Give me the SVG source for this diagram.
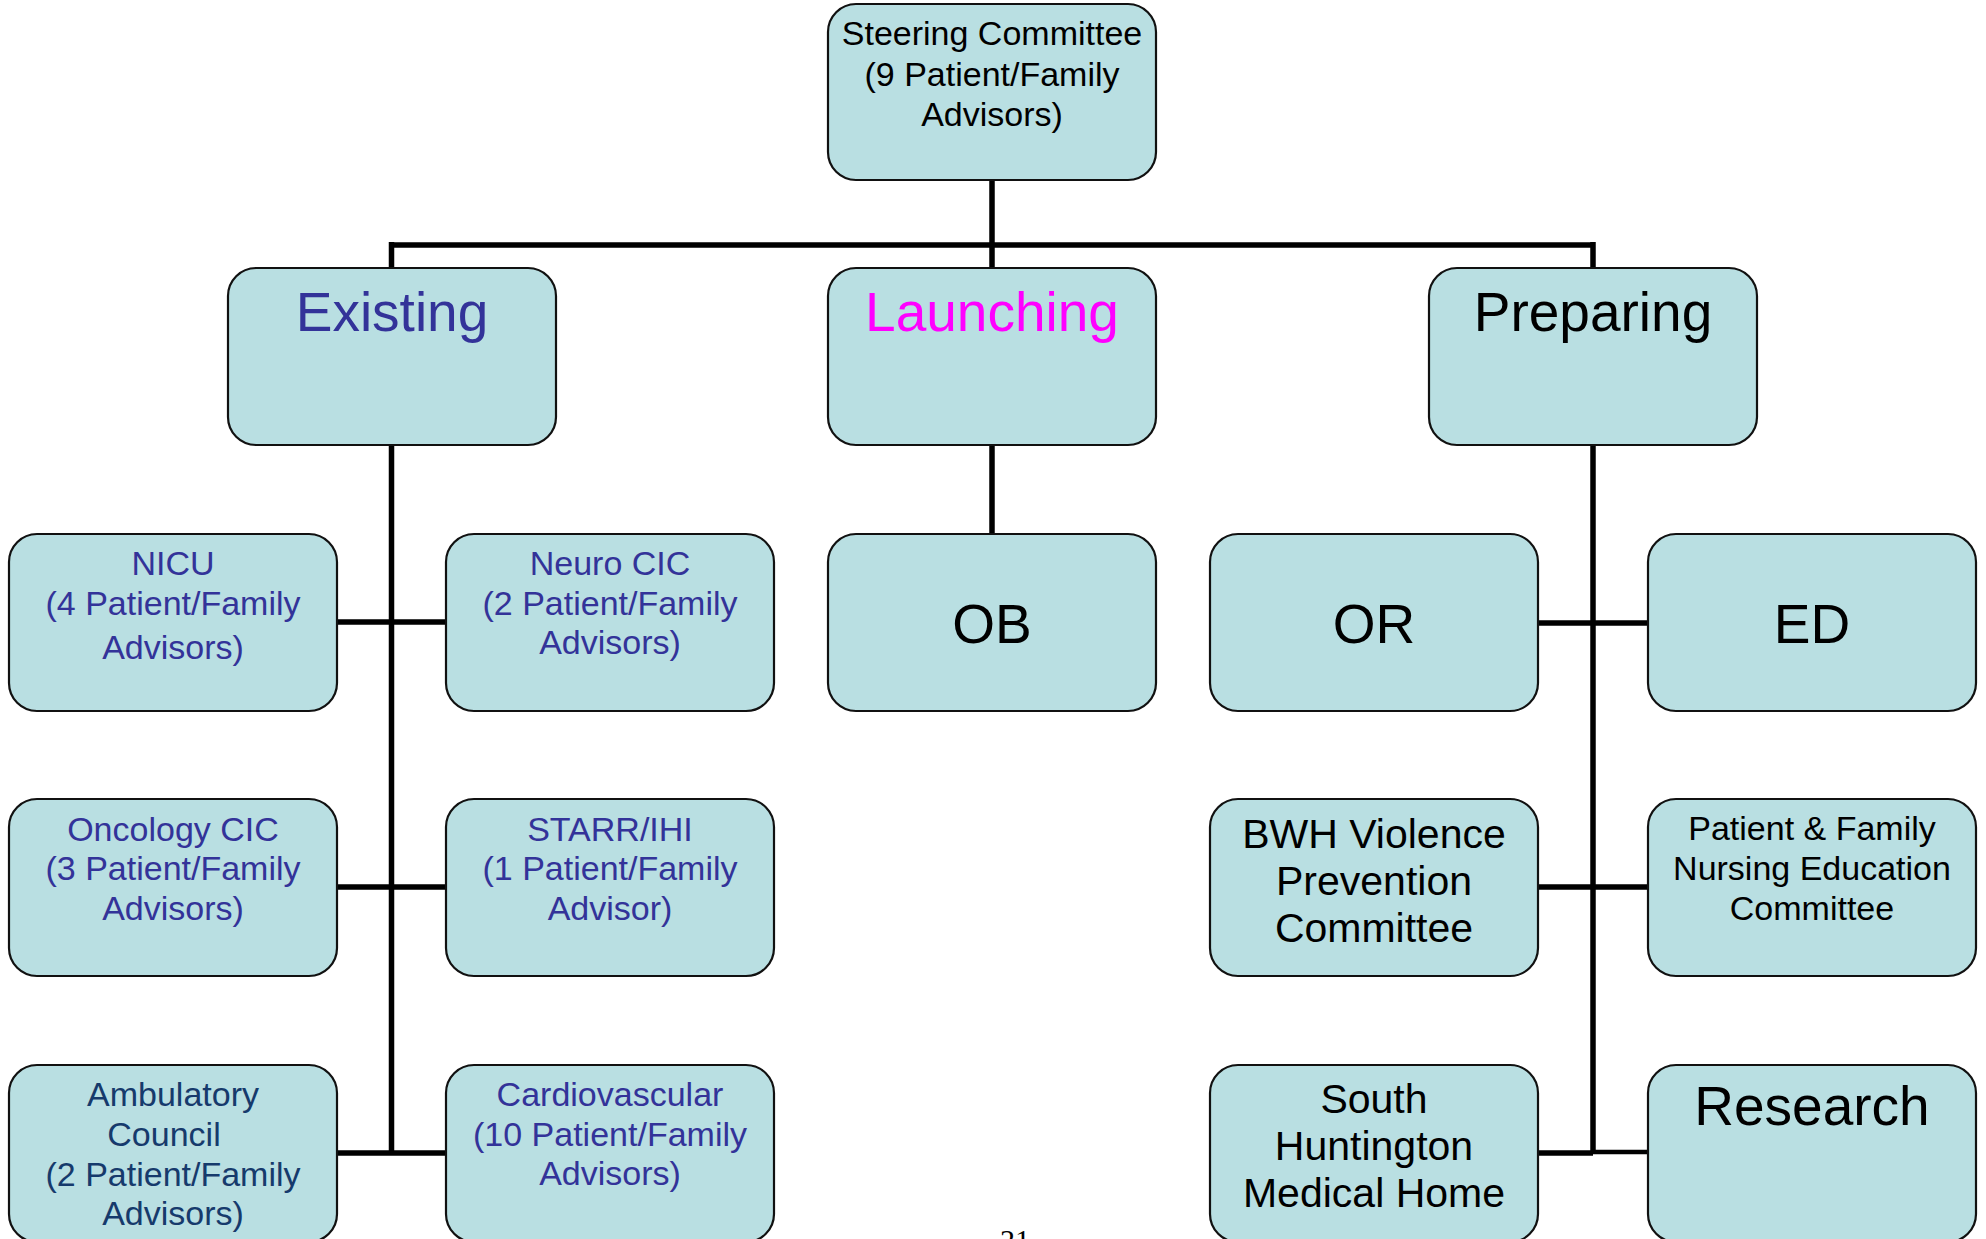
<svg xmlns="http://www.w3.org/2000/svg" width="1986" height="1239" viewBox="0 0 1986 1239">
<style>
.box{fill:#B9DFE2;stroke:#111;stroke-width:2.2}
.t{font-family:"Liberation Sans",Arial,sans-serif;text-anchor:middle}
.s34{font-size:34px}
.s41{font-size:41px}
.s55{font-size:55px}
.blue{fill:#333399}
.navy{fill:#163A6C}
.blk{fill:#000}
.mag{fill:#FF00FF}
.conn{stroke:#000;stroke-width:5.5;fill:none}
.pg{font-family:"Liberation Serif","Times New Roman",serif;font-size:30px;text-anchor:middle;fill:#000}
</style>
<rect width="1986" height="1239" fill="#fff"/>
<g id="connectors">
<path class="conn" d="M992,180V245M391.5,245H1593M391.5,242V268M992,245V268M1593,242V268"/>
<path class="conn" d="M391.5,445V1153"/>
<path class="conn" d="M337,622H446M337,887H446M337,1153H446"/>
<path class="conn" d="M992,445V534"/>
<path class="conn" d="M1593,445V1153"/>
<path class="conn" d="M1538,623H1648M1538,887H1648M1538,1153H1593"/>
<path class="conn" d="M1593,1152H1648" style="stroke-width:4.5"/>
</g>
<g id="steering"><rect class="box" x="828" y="4" width="328" height="176" rx="28"/>
<text class="t s34 blk" x="992"><tspan x="992" y="45">Steering Committee</tspan><tspan x="992" y="86">(9 Patient/Family</tspan><tspan x="992" y="126">Advisors)</tspan></text></g>
<g id="existing"><rect class="box" x="228" y="268" width="328" height="177" rx="28"/>
<text class="t s55 blue" x="392" y="331">Existing</text></g>
<g id="launching"><rect class="box" x="828" y="268" width="328" height="177" rx="28"/>
<text class="t s55 mag" x="992" y="331">Launching</text></g>
<g id="preparing"><rect class="box" x="1429" y="268" width="328" height="177" rx="28"/>
<text class="t s55 blk" x="1593" y="331">Preparing</text></g>
<g id="nicu"><rect class="box" x="9" y="534" width="328" height="177" rx="28"/>
<text class="t s34 blue"><tspan x="173" y="575">NICU</tspan><tspan x="173" y="615">(4 Patient/Family</tspan><tspan x="173" y="659">Advisors)</tspan></text></g>
<g id="neuro"><rect class="box" x="446" y="534" width="328" height="177" rx="28"/>
<text class="t s34 blue"><tspan x="610" y="575">Neuro CIC</tspan><tspan x="610" y="615">(2 Patient/Family</tspan><tspan x="610" y="654">Advisors)</tspan></text></g>
<g id="oncology"><rect class="box" x="9" y="799" width="328" height="177" rx="28"/>
<text class="t s34 blue"><tspan x="173" y="841">Oncology CIC</tspan><tspan x="173" y="880">(3 Patient/Family</tspan><tspan x="173" y="920">Advisors)</tspan></text></g>
<g id="starr"><rect class="box" x="446" y="799" width="328" height="177" rx="28"/>
<text class="t s34 blue"><tspan x="610" y="841">STARR/IHI</tspan><tspan x="610" y="880">(1 Patient/Family</tspan><tspan x="610" y="920">Advisor)</tspan></text></g>
<g id="ambulatory"><rect class="box" x="9" y="1065" width="328" height="177" rx="28"/>
<text class="t s34 navy"><tspan x="173" y="1106">Ambulatory</tspan><tspan x="164" y="1146">Council</tspan><tspan x="173" y="1186">(2 Patient/Family</tspan><tspan x="173" y="1225">Advisors)</tspan></text></g>
<g id="cardiovascular"><rect class="box" x="446" y="1065" width="328" height="177" rx="28"/>
<text class="t s34 blue"><tspan x="610" y="1106">Cardiovascular</tspan><tspan x="610" y="1146">(10 Patient/Family</tspan><tspan x="610" y="1185">Advisors)</tspan></text></g>
<g id="ob"><rect class="box" x="828" y="534" width="328" height="177" rx="28"/>
<text class="t s55 blk" x="992" y="643">OB</text></g>
<g id="or"><rect class="box" x="1210" y="534" width="328" height="177" rx="28"/>
<text class="t s55 blk" x="1374" y="643">OR</text></g>
<g id="ed"><rect class="box" x="1648" y="534" width="328" height="177" rx="28"/>
<text class="t s55 blk" x="1812" y="643">ED</text></g>
<g id="bwh"><rect class="box" x="1210" y="799" width="328" height="177" rx="28"/>
<text class="t s41 blk"><tspan x="1374" y="848">BWH Violence</tspan><tspan x="1374" y="895">Prevention</tspan><tspan x="1374" y="942">Committee</tspan></text></g>
<g id="pfnursing"><rect class="box" x="1648" y="799" width="328" height="177" rx="28"/>
<text class="t s34 blk"><tspan x="1812" y="840">Patient &amp; Family</tspan><tspan x="1812" y="880">Nursing Education</tspan><tspan x="1812" y="920">Committee</tspan></text></g>
<g id="southhuntington"><rect class="box" x="1210" y="1065" width="328" height="177" rx="28"/>
<text class="t s41 blk"><tspan x="1374" y="1113">South</tspan><tspan x="1374" y="1160">Huntington</tspan><tspan x="1374" y="1207">Medical Home</tspan></text></g>
<g id="research"><rect class="box" x="1648" y="1065" width="328" height="177" rx="28"/>
<text class="t s55 blk" x="1812" y="1125">Research</text></g>
<text class="pg" x="1015" y="1250">21</text>
</svg>
